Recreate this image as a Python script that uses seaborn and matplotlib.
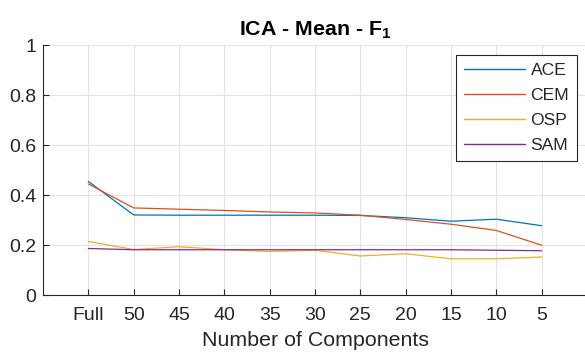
import matplotlib
matplotlib.use("Agg")
import matplotlib.pyplot as plt
import seaborn as sns
import pandas as pd

components = ["Full", "50", "45", "40", "35", "30", "25", "20", "15", "10", "5"]
ace = [0.455, 0.321, 0.320, 0.320, 0.320, 0.320, 0.319, 0.310, 0.296, 0.304, 0.278]
cem = [0.445, 0.349, 0.344, 0.339, 0.333, 0.329, 0.320, 0.303, 0.284, 0.259, 0.200]
osp = [0.215, 0.183, 0.194, 0.182, 0.175, 0.180, 0.157, 0.166, 0.146, 0.146, 0.153]
sam = [0.187, 0.182, 0.182, 0.182, 0.182, 0.182, 0.182, 0.182, 0.182, 0.180, 0.178]

methods = ["ACE", "CEM", "OSP", "SAM"]
colors = ["#0072BD", "#D95319", "#EDB120", "#7E2F8E"]

rows = []
for name, vals in zip(methods, [ace, cem, osp, sam]):
    for c, v in zip(components, vals):
        rows.append({"Components": c, "F1": v, "Method": name})
df = pd.DataFrame(rows)

sns.set_theme(style="white")
plt.rcParams["font.family"] = ["Liberation Sans", "DejaVu Sans"]
plt.rcParams["mathtext.fontset"] = "custom"
plt.rcParams["mathtext.rm"] = "Liberation Sans"
plt.rcParams["mathtext.bf"] = "Liberation Sans:bold"

fig = plt.figure(figsize=(5.85, 3.56), dpi=100)
ax = fig.add_axes([43 / 585, (356 - 295.3) / 356, (587 - 43) / 585, 250.3 / 356])

sns.lineplot(data=df, x="Components", y="F1", hue="Method", palette=colors,
             sort=False, linewidth=0.9, ax=ax)

ax.set_xlim(-1, 11)
ax.set_ylim(0, 1)
ax.set_yticks([0, 0.2, 0.4, 0.6, 0.8, 1])
ax.set_yticklabels(["0", "0.2", "0.4", "0.6", "0.8", "1"])
ax.grid(True, color="#e3e3e3", linewidth=0.8)
ax.set_axisbelow(True)

for side in ["top", "right"]:
    ax.spines[side].set_visible(False)
for side in ["left", "bottom"]:
    ax.spines[side].set_color("#262626")
    ax.spines[side].set_linewidth(0.8)

ax.tick_params(axis="both", direction="in", length=4, width=0.8,
               colors="#262626", labelsize=14, labelcolor="#262626")
ax.tick_params(axis="x", pad=8.5)
ax.tick_params(axis="y", pad=5)
ax.tick_params(axis="both", left=True, bottom=True)

ax.set_xlabel("Number of Components", fontsize=15.4, color="#262626", labelpad=5)
ax.set_ylabel("")
ax.set_title(r"ICA - Mean - F$_\mathbf{1}$", fontsize=15.4, fontweight="bold",
             color="black", pad=7)

leg = ax.legend(loc="upper right", bbox_to_anchor=((577 - 43) / 544, (296 - 56) / 250.3),
                frameon=True, fancybox=False, fontsize=12.6, handlelength=3.5,
                handletextpad=0.3, borderpad=0.45, labelspacing=0.55,
                borderaxespad=0)
leg.get_frame().set_edgecolor("#262626")
leg.get_frame().set_linewidth(0.8)
leg.get_frame().set_facecolor("white")
leg.get_frame().set_alpha(1)
leg.set_title(None)
for line in leg.get_lines():
    line.set_linewidth(1.0)

fig.savefig("out.png", dpi=100)
